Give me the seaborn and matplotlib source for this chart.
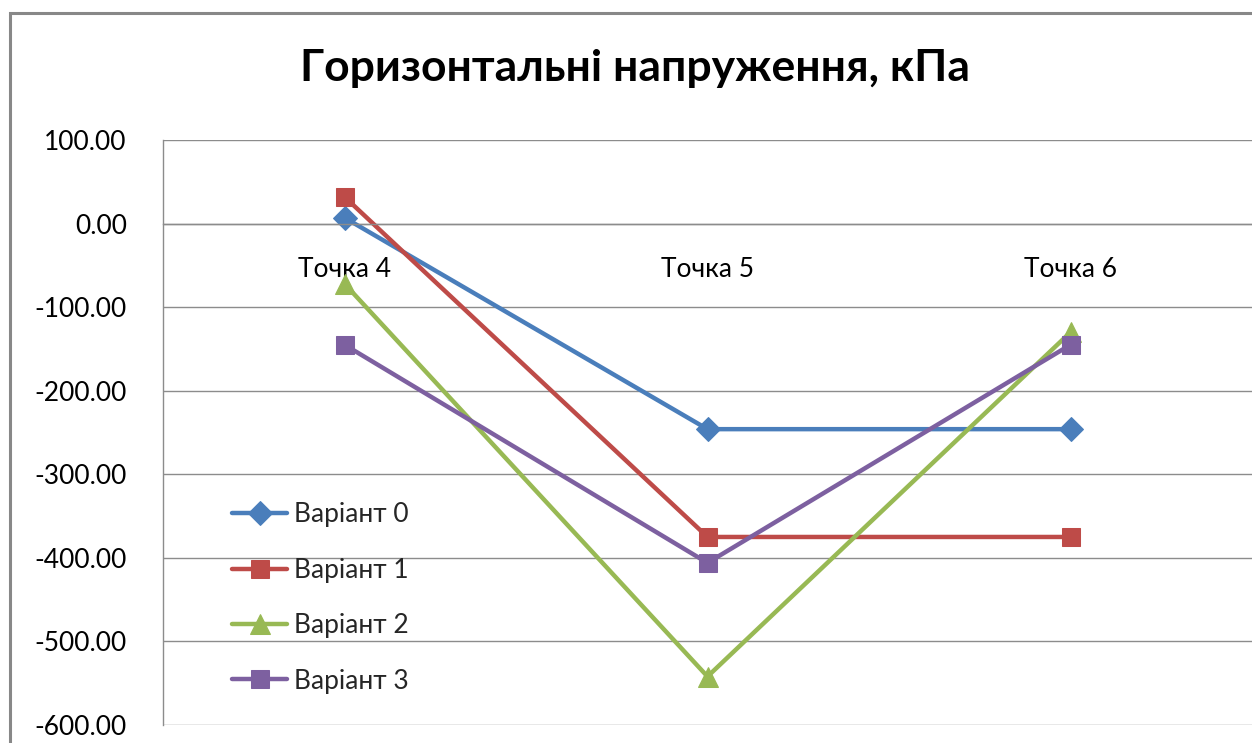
import matplotlib
matplotlib.use("Agg")
import matplotlib.pyplot as plt
from matplotlib.patches import Rectangle
import seaborn as sns
import pandas as pd

# Chart data
points = ["Точка 4", "Точка 5", "Точка 6"]
variants = ["Варіант 0", "Варіант 1", "Варіант 2", "Варіант 3"]
variant0 = [7, -246, -246]
variant1 = [32, -375, -375]
variant2 = [-72, -542, -130]
variant3 = [-145, -406, -145]
y_ticks = [100, 0, -100, -200, -300, -400, -500, -600]

colors = ["#4A7EBB", "#BE4B48", "#98B954", "#7D60A0"]
markers = ["D", "s", "^", "s"]
marker_sizes = [12, 13, 14, 13]

series = [variant0, variant1, variant2, variant3]
rows = []
for name, vals in zip(variants, series):
    for i, (p, v) in enumerate(zip(points, vals)):
        rows.append({"point": i, "label": p, "series": name, "value": v})
df = pd.DataFrame(rows)

sns.set_theme(style="white")
plt.rcParams["font.family"] = ["Lato", "DejaVu Sans"]

fig = plt.figure(figsize=(12.52, 7.43), dpi=100)
ax = fig.add_axes([163 / 1252, 1 - 725 / 743, 1 - 163 / 1252, (725 - 140) / 743])

sns.lineplot(
    data=df, x="point", y="value", hue="series", style="series",
    hue_order=variants, style_order=variants,
    palette=dict(zip(variants, colors)),
    markers=dict(zip(variants, markers)), dashes=False,
    linewidth=3.2, legend=False, ax=ax,
)

for line, c, ms in zip(ax.lines, colors, marker_sizes):
    line.set_markersize(ms)
    line.set_markerfacecolor(c)
    line.set_markeredgecolor(c)
    line.set_solid_joinstyle("round")
    line.set_solid_capstyle("round")

ax.set_xlim(-0.5, 2.5)
ax.set_ylim(-600, 100)
ax.set_yticks(y_ticks)
ax.set_yticklabels([f"{v:.2f}" for v in y_ticks])
ax.set_xticks(range(len(points)))
ax.set_xticklabels(points)
ax.set_xlabel("")
ax.set_ylabel("")

ax.set_axisbelow(True)
ax.yaxis.grid(True, color="#8C8C8C", linewidth=1)
ax.xaxis.grid(False)
for s in ["top", "right"]:
    ax.spines[s].set_visible(False)
ax.spines["left"].set_color("#8C8C8C")
ax.spines["left"].set_linewidth(1)
ax.spines["bottom"].set_position(("data", 0))
ax.spines["bottom"].set_color("#8C8C8C")
ax.spines["bottom"].set_linewidth(1)
ax.tick_params(axis="y", length=0, pad=26, labelsize=19, labelcolor="black")
ax.tick_params(axis="x", length=0, pad=24, labelsize=19, labelcolor="black")

ax.legend(
    ax.lines, variants, loc="center left",
    bbox_to_anchor=(232 / 1252, 1 - 598 / 743), bbox_transform=fig.transFigure,
    frameon=False, fontsize=19, handlelength=2.1, handletextpad=0.25,
    labelspacing=1.15, borderpad=0, borderaxespad=0,
)

fig.text(635 / 1252, 1 - 68 / 743, "Горизонтальні напруження, кПа",
         ha="center", va="center", fontsize=32, fontweight="bold", color="black")

fig.patches.append(Rectangle((10 / 1252, -0.1), 1.2, 1.1 - 13 / 743,
                             transform=fig.transFigure, fill=False,
                             edgecolor="#888888", linewidth=2.2))

fig.savefig("out.png", dpi=100, facecolor="white")
